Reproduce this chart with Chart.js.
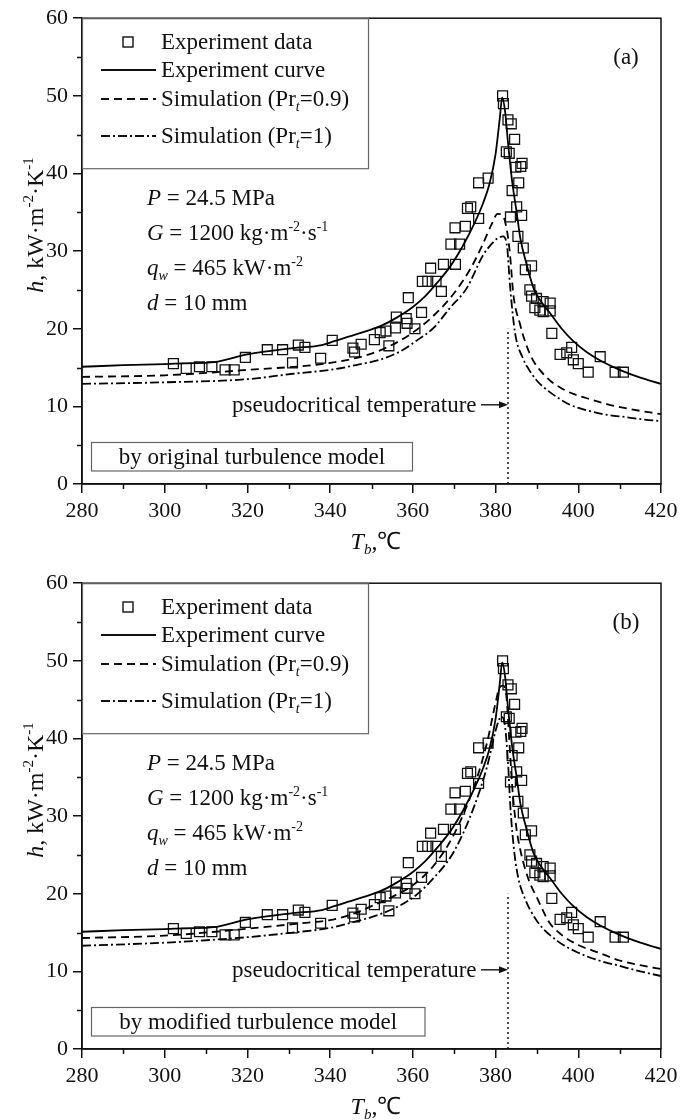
<!DOCTYPE html>
<html>
<head>
<meta charset="utf-8">
<script src="https://cdn.jsdelivr.net/npm/chart.js@4.4.1/dist/chart.umd.min.js"></script>
<style>
  html, body { margin: 0; padding: 0; background: #fff; }
  #wrap { position: relative; width: 685px; height: 1120px; }
  .panel { position: absolute; left: 0; width: 685px; }
</style>
</head>
<body>
<div id="wrap">
  <div class="panel" style="top:0;height:560px"><canvas id="chartA" width="685" height="560"></canvas></div>
  <div class="panel" style="top:565px;height:555px"><canvas id="chartB" width="685" height="555"></canvas></div>
</div>
<script>
// Axis ticks
const xTicks = [280, 300, 320, 340, 360, 380, 400, 420];
const yTicks = [0, 10, 20, 30, 40, 50, 60];

// Experiment data (squares) - same in both panels
const expT = [302.1, 305.2, 308.4, 311.4, 314.6, 316.8, 319.5, 324.8, 328.5, 330.9, 332.3, 333.9, 337.7, 340.5, 345.5, 345.9, 347.5, 350.7, 352.1, 353.5, 354.2, 355.8, 356.0, 358.4, 358.6, 358.9, 360.5, 362.1, 362.3, 363.6, 364.3, 365.6, 366.9, 367.4, 369.2, 370.2, 370.3, 371.3, 372.7, 373.2, 374.0, 375.9, 375.9, 378.2, 381.7, 381.9, 382.6, 383.0, 383.3, 383.6, 383.8, 384.0, 384.6, 384.9, 385.1, 385.4, 385.6, 386.1, 386.3, 386.4, 386.7, 387.2, 388.3, 388.7, 388.7, 389.5, 389.9, 390.7, 391.5, 391.5, 393.2, 393.2, 393.6, 395.6, 397.2, 398.4, 398.8, 400.0, 402.4, 405.3, 408.9, 410.9];
const expH = [15.5, 14.9, 15.1, 15.1, 14.7, 14.7, 16.3, 17.3, 17.3, 15.6, 17.9, 17.6, 16.2, 18.5, 17.5, 17.0, 18.0, 18.6, 19.5, 19.7, 17.8, 20.1, 21.5, 21.3, 20.7, 24.0, 20.0, 22.1, 26.1, 26.1, 27.8, 26.1, 24.8, 28.3, 30.9, 33.0, 28.3, 30.9, 33.2, 35.5, 35.7, 34.2, 38.8, 39.4, 50.0, 49.0, 42.8, 46.9, 42.6, 34.4, 46.4, 37.8, 44.4, 40.8, 35.7, 31.9, 38.8, 40.9, 34.6, 41.3, 30.4, 27.6, 25.0, 28.1, 24.2, 22.7, 23.9, 22.4, 23.5, 22.2, 23.3, 22.3, 19.4, 16.7, 16.9, 17.6, 16.0, 15.5, 14.4, 16.4, 14.4, 14.4];

// Experiment curve (solid) - same in both panels
const curveT = [280, 290, 300, 305, 312, 320, 331, 338, 341, 347, 352, 356, 360, 363, 366, 369, 372, 375, 377, 378.5, 380, 381, 381.6, 382.3, 383, 384, 385.1, 386, 387.5, 389.2, 391, 393.2, 396, 398.8, 402, 405.3, 410, 415, 420];
const curveH = [15.1, 15.3, 15.45, 15.55, 15.7, 16.7, 17.5, 17.9, 18.4, 19.4, 20.3, 21.4, 22.8, 24.2, 26.0, 28.0, 30.6, 33.7, 36.2, 38.6, 42.5, 47.0, 49.8, 48.0, 44.0, 39.0, 35.0, 31.6, 28.3, 25.2, 23.5, 22.0, 20.0, 18.4, 17.0, 15.9, 14.7, 13.7, 12.9];

// (a) original turbulence model
const origSim09T = [280, 300, 320, 340, 350, 357, 362, 366, 370, 374, 377, 379, 380.5, 381.8, 382.8, 383.5, 384.3, 385.9, 387.5, 389.1, 391, 393.2, 396, 398.8, 403, 406.9, 412, 420];
const origSim09H = [13.8, 14.0, 14.7, 15.6, 16.8, 18.5, 20.3, 22.2, 24.6, 27.8, 31.0, 33.4, 34.8, 34.5, 32.5, 29.5, 24.4, 20.6, 17.8, 15.9, 14.5, 13.3, 12.3, 11.6, 10.9, 10.3, 9.7, 9.0];
const origSim1T = [280, 300, 320, 331, 340, 347, 352, 357, 361, 365, 369, 373, 377, 379, 380.3, 381.8, 382.8, 383.5, 384.7, 386.7, 388, 390, 392, 394.8, 398, 402, 406, 411.7, 416, 420];
const origSim1H = [12.9, 13.1, 13.5, 14.2, 14.7, 15.4, 16.0, 17.1, 18.5, 20.1, 22.7, 25.2, 29.5, 30.9, 31.6, 31.9, 30.5, 25.5, 19.5, 16.1, 14.8, 13.3, 12.3, 11.2, 10.2, 9.5, 9.0, 8.6, 8.3, 8.1];

// (b) modified turbulence model
const modSim09T = [280, 300, 320, 333, 341, 346, 350, 355, 360, 365, 370, 375, 378, 380, 381, 381.8, 382.6, 383.3, 384, 385, 386, 388, 390, 393, 396, 400, 405, 410, 415, 420];
const modSim09H = [14.3, 14.6, 15.5, 16.2, 16.7, 17.5, 18.4, 19.6, 21.1, 23.6, 27.7, 34.1, 39.6, 44.6, 46.6, 46.8, 45.5, 40.0, 34.0, 28.6, 25.6, 21.8, 19.5, 16.3, 14.7, 13.4, 12.4, 11.4, 10.8, 10.3];
const modSim1T = [280, 300, 320, 331, 340, 346, 350, 355, 360, 365, 370, 375, 378, 380, 381, 381.5, 382.3, 383, 383.6, 384.5, 385.5, 387, 390, 395, 400, 405, 410, 415, 420];
const modSim1H = [13.3, 13.7, 14.4, 15.0, 15.6, 16.4, 17.0, 18.0, 19.5, 22.0, 25.5, 31.5, 36.5, 41.0, 42.6, 42.8, 41.5, 37.0, 31.0, 25.5, 22.0, 19.5, 16.5, 13.9, 12.4, 11.4, 10.7, 10.0, 9.4];

// Pseudocritical temperature marker
const pseudoT = 383;
const pseudoH = [0, 20];
const arrowH = 10.2;

const INK = '#111';
const FAM = '"Liberation Serif", "Times New Roman", serif';
const DASH = [8, 5];
const DASHDOT = [9, 3, 2, 3];

function font(size, italic) { return (italic ? 'italic ' : '') + size + 'px ' + FAM; }
function pts(xs, ys) { return xs.map((x, i) => ({ x: x, y: ys[i] })); }

// draw text made of parts: [text, style]; style '', 'i', 'sup', 'sub', 'isub'
function drawRich(ctx, parts, x, y, size, align) {
  const segs = parts.map(p => {
    const st = p[1] || '';
    const small = st === 'sup' || st === 'sub' || st === 'isub';
    const sz = small ? Math.round(size * 0.62) : size;
    const it = st === 'i' || st === 'isub';
    const dy = st === 'sup' ? -size * 0.4 : (small ? size * 0.22 : 0);
    const f = font(sz, it);
    ctx.font = f;
    return { text: p[0], f: f, dy: dy, w: ctx.measureText(p[0]).width };
  });
  const total = segs.reduce((s, g) => s + g.w, 0);
  let cx = align === 'center' ? x - total / 2 : x;
  ctx.textAlign = 'left';
  ctx.textBaseline = 'alphabetic';
  segs.forEach(g => { ctx.font = g.f; ctx.fillText(g.text, cx, y + g.dy); cx += g.w; });
  return total;
}

function decoPlugin(p) {
  return {
    id: 'deco',
    afterDraw(chart) {
      const ctx = chart.ctx, a = chart.chartArea;
      const xs = chart.scales.x, ys = chart.scales.y;
      ctx.save();
      ctx.fillStyle = INK;
      ctx.strokeStyle = INK;

      // frame
      ctx.lineWidth = 1.5;
      ctx.strokeRect(a.left, a.top, a.right - a.left, a.bottom - a.top);

      // minor ticks
      ctx.beginPath();
      for (let v = 290; v < 420; v += 20) {
        const px = Math.round(xs.getPixelForValue(v)) + 0.5;
        ctx.moveTo(px, a.bottom); ctx.lineTo(px, a.bottom + 5);
      }
      for (let v = 5; v < 60; v += 10) {
        const py = Math.round(ys.getPixelForValue(v)) + 0.5;
        ctx.moveTo(a.left, py); ctx.lineTo(a.left - 5, py);
      }
      ctx.stroke();

      // legend box
      ctx.lineWidth = 1.2;
      ctx.strokeStyle = '#666';
      ctx.strokeRect(a.left + 0.5, a.top + 0.5, 286, 150);
      ctx.strokeStyle = INK;
      const rows = [49, 77, 106, 143];
      ctx.lineWidth = 1.4;
      ctx.strokeRect(123, rows[0] - 12, 10, 10);
      ctx.lineWidth = 1.8;
      [[], DASH, DASHDOT].forEach((d, i) => {
        ctx.setLineDash(d);
        ctx.beginPath();
        ctx.moveTo(101, rows[i + 1] - 7); ctx.lineTo(156, rows[i + 1] - 7);
        ctx.stroke();
      });
      ctx.setLineDash([]);
      drawRich(ctx, [['Experiment data']], 161, rows[0], 23);
      drawRich(ctx, [['Experiment curve']], 161, rows[1], 23);
      drawRich(ctx, [['Simulation (Pr'], ['t', 'isub'], ['=0.9)']], 161, rows[2], 23);
      drawRich(ctx, [['Simulation (Pr'], ['t', 'isub'], ['=1)']], 161, rows[3], 23);

      // panel label
      drawRich(ctx, [[p.tag]], 626, 64, 23, 'center');

      // conditions
      drawRich(ctx, [['P', 'i'], [' = 24.5 MPa']], 147, 205, 23);
      drawRich(ctx, [['G', 'i'], [' = 1200 kg·m'], ['-2', 'sup'], ['·s'], ['-1', 'sup']], 147, 240, 23);
      drawRich(ctx, [['q', 'i'], ['w', 'isub'], [' = 465 kW·m'], ['-2', 'sup']], 147, 275, 23);
      drawRich(ctx, [['d', 'i'], [' = 10 mm']], 147, 310, 23);

      // pseudocritical annotation
      const tx = xs.getPixelForValue(pseudoT);
      const ay = ys.getPixelForValue(arrowH);
      drawRich(ctx, [['pseudocritical temperature']], 232, ay + 7, 23);
      ctx.lineWidth = 1.4;
      ctx.beginPath();
      ctx.moveTo(481, ay); ctx.lineTo(tx - 6, ay);
      ctx.stroke();
      ctx.beginPath();
      ctx.moveTo(tx, ay); ctx.lineTo(tx - 9, ay - 3.5); ctx.lineTo(tx - 9, ay + 3.5);
      ctx.closePath(); ctx.fill();

      // model box
      ctx.lineWidth = 1.2;
      ctx.strokeStyle = '#666';
      ctx.strokeRect(91.5, 442.5, p.boxW, 28.5);
      drawRich(ctx, [[p.box]], 91.5 + p.boxW / 2, 464, 23, 'center');

      // axis titles
      drawRich(ctx, [['T', 'i'], ['b', 'isub'], [',℃']], 376, 549, 24, 'center');
      ctx.translate(43, 225);
      ctx.rotate(-Math.PI / 2);
      drawRich(ctx, [['h', 'i'], [', kW·m'], ['-2', 'sup'], ['·K'], ['-1', 'sup']], 0, 0, 24, 'center');
      ctx.restore();
    }
  };
}

function makePanel(id, p) {
  const canvas = document.getElementById(id);
  const H = canvas.height;
  const lineDs = (xs, ys, dash) => ({
    data: pts(xs, ys), showLine: true, pointRadius: 0, borderColor: '#000',
    borderWidth: 1.8, borderDash: dash, cubicInterpolationMode: 'monotone', fill: false
  });
  return new Chart(canvas, {
    type: 'scatter',
    data: {
      datasets: [
        lineDs(curveT, curveH, []),
        lineDs(p.s09T, p.s09H, DASH),
        lineDs(p.s1T, p.s1H, DASHDOT),
        {
          data: pseudoH.map(h => ({ x: pseudoT, y: h })), showLine: true, pointRadius: 0,
          borderColor: '#000', borderWidth: 1.4, borderDash: [2, 3]
        },
        {
          data: pts(expT, expH), pointStyle: 'rect', pointRadius: 7, borderWidth: 1.3,
          borderColor: INK, backgroundColor: 'rgba(0,0,0,0)', showLine: false
        }
      ]
    },
    options: {
      responsive: false,
      animation: false,
      events: [],
      layout: { padding: { left: 0, right: 24, top: 15, bottom: 0 } },
      plugins: { legend: { display: false }, tooltip: { enabled: false } },
      scales: {
        x: {
          type: 'linear', min: 280, max: 420,
          afterBuildTicks: s => { s.ticks = xTicks.map(v => ({ value: v })); },
          afterFit: s => { s.height = H - 484; },
          ticks: { font: { family: FAM, size: 22 }, color: INK, padding: 5, maxRotation: 0, autoSkip: false },
          grid: { drawOnChartArea: false, drawTicks: true, tickLength: 9, color: INK, lineWidth: 1.5 },
          border: { color: INK, width: 1.5 }
        },
        y: {
          type: 'linear', min: 0, max: 60,
          afterBuildTicks: s => { s.ticks = yTicks.map(v => ({ value: v })); },
          afterFit: s => { s.width = 82; },
          ticks: { font: { family: FAM, size: 22 }, color: INK, padding: 5, autoSkip: false },
          grid: { drawOnChartArea: false, drawTicks: true, tickLength: 9, color: INK, lineWidth: 1.5 },
          border: { color: INK, width: 1.5 }
        }
      }
    },
    plugins: [decoPlugin(p)]
  });
}

makePanel('chartA', {
  tag: '(a)', box: 'by original turbulence model', boxW: 321,
  s09T: origSim09T, s09H: origSim09H, s1T: origSim1T, s1H: origSim1H
});
makePanel('chartB', {
  tag: '(b)', box: 'by modified turbulence model', boxW: 333.5,
  s09T: modSim09T, s09H: modSim09H, s1T: modSim1T, s1H: modSim1H
});
</script>
</body>
</html>
